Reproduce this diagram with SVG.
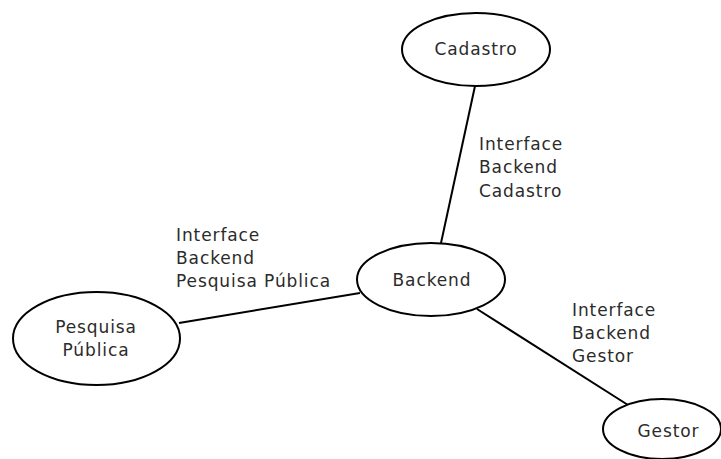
<svg xmlns="http://www.w3.org/2000/svg" width="721" height="459" viewBox="0 0 721 459">
  <style>
    .node { fill: #ffffff; stroke: #000000; stroke-width: 2; }
    .edge { stroke: #000000; stroke-width: 2; fill: none; }
    text { font-family: "DejaVu Sans", "Liberation Sans", sans-serif; font-size: 17px; fill: #2b2b2b; letter-spacing: 0.9px; }
    .c { text-anchor: middle; }
  </style>
  <rect width="721" height="459" fill="#ffffff"/>

  <!-- connectors -->
  <g id="connectors">
    <line class="edge" x1="475" y1="86" x2="441" y2="243"/>
    <line class="edge" x1="179" y1="323" x2="360" y2="293"/>
    <line class="edge" x1="477" y1="309" x2="628" y2="405"/>
  </g>

  <!-- edge labels -->
  <g id="label-cadastro">
    <text x="479" y="150">Interface</text>
    <text x="479" y="173">Backend</text>
    <text x="479" y="197">Cadastro</text>
  </g>
  <g id="label-pesquisa">
    <text x="176" y="241">Interface</text>
    <text x="176" y="264">Backend</text>
    <text x="176" y="287">Pesquisa Pública</text>
  </g>
  <g id="label-gestor">
    <text x="572" y="316">Interface</text>
    <text x="572" y="339">Backend</text>
    <text x="572" y="362">Gestor</text>
  </g>

  <!-- nodes -->
  <g id="node-cadastro">
    <ellipse class="node" cx="476" cy="49.5" rx="74" ry="36.5"/>
    <text class="c" x="476" y="55">Cadastro</text>
  </g>
  <g id="node-backend">
    <ellipse class="node" cx="431" cy="279.5" rx="74" ry="36.5"/>
    <text class="c" x="432" y="286">Backend</text>
  </g>
  <g id="node-pesquisa">
    <ellipse class="node" cx="96.5" cy="338.5" rx="83.5" ry="46.5"/>
    <text class="c" x="96" y="333">Pesquisa</text>
    <text class="c" x="96" y="356">Pública</text>
  </g>
  <g id="node-gestor">
    <ellipse class="node" cx="662" cy="429" rx="59" ry="30"/>
    <text class="c" x="668.5" y="437">Gestor</text>
  </g>
</svg>
